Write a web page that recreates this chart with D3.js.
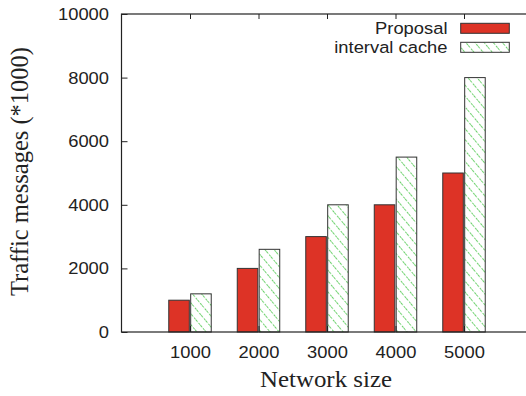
<!DOCTYPE html>
<html>
<head>
<meta charset="utf-8">
<script src="https://cdn.jsdelivr.net/npm/d3@7"></script>
<style>
  html, body { margin: 0; padding: 0; background: #fff; }
  svg { display: block; }
</style>
</head>
<body>
<svg id="chart" width="526" height="396"></svg>
<script>
// Network sizes on the x axis and the two traffic series (in thousands of messages)
const categories = ["1000", "2000", "3000", "4000", "5000"];
const proposal = [1000, 2000, 3000, 4000, 5000];
const intervalCache = [1200, 2600, 4000, 5500, 8000];
const yTicks = [0, 2000, 4000, 6000, 8000, 10000];
const seriesNames = ["Proposal", "interval cache"];

(function () {
const svg = d3.select("#chart");
const plotLeft = 121.5, plotTop = 14, plotBottom = 332;
const slot = 68.5;
const sx = 1.08;   // slight horizontal widening of the sans labels

// x positions: category i sits at i+1 on a 0..6 range (right edge falls past the canvas)
const x = d3.scaleLinear().domain([0, 6]).range([plotLeft, plotLeft + 6 * slot]);
const y = d3.scaleLinear().domain([0, 10000]).range([plotBottom, plotTop]);

const sansFont = "'Liberation Sans', Arial, Helvetica, sans-serif";
const serifFont = "'Liberation Serif', 'Times New Roman', Times, serif";
const frameColor = "#222";
const sansSize = 17;

// Hatch pattern for the interval cache bars
const defs = svg.append("defs");
const pat = defs.append("pattern")
  .attr("id", "hatch")
  .attr("patternUnits", "userSpaceOnUse")
  .attr("width", 7).attr("height", 7)
  .attr("patternTransform", "rotate(-40)");
pat.append("rect").attr("width", 7).attr("height", 7).attr("fill", "#fff");
pat.append("line")
  .attr("x1", 0).attr("y1", 0).attr("x2", 0).attr("y2", 7)
  .attr("stroke", "#30c030").attr("stroke-width", 1.4)
  .attr("stroke-dasharray", "2.5 1.5");

const boxW = 0.3, offset = 0.16;
const red = "#dd3326";

// Bars
const g = svg.append("g");
g.selectAll("rect.prop").data(proposal).enter().append("rect")
  .attr("class", "prop")
  .attr("x", (d, i) => x(i + 1 - offset - boxW / 2))
  .attr("width", (d, i) => x(i + 1 - offset + boxW / 2) - x(i + 1 - offset - boxW / 2))
  .attr("y", d => y(d))
  .attr("height", d => y(0) - y(d))
  .attr("fill", red).attr("stroke", "#333").attr("stroke-width", 1);

g.selectAll("rect.ic").data(intervalCache).enter().append("rect")
  .attr("class", "ic")
  .attr("x", (d, i) => x(i + 1 + offset - boxW / 2))
  .attr("width", (d, i) => x(i + 1 + offset + boxW / 2) - x(i + 1 + offset - boxW / 2))
  .attr("y", d => y(d))
  .attr("height", d => y(0) - y(d))
  .attr("fill", "url(#hatch)").attr("stroke", "#333").attr("stroke-width", 1);

// Frame
svg.append("rect")
  .attr("x", x(0)).attr("y", y(10000))
  .attr("width", x(6) - x(0)).attr("height", y(0) - y(10000))
  .attr("fill", "none").attr("stroke", frameColor).attr("stroke-width", 1.2);

// Y axis (ticks pointing inward)
const yAxis = d3.axisLeft(y).tickValues(yTicks).tickSize(-6).tickPadding(12.5 / sx)
  .tickFormat(d3.format("d"));
const yg = svg.append("g").attr("transform", `translate(${x(0)},0)`).call(yAxis);
yg.select(".domain").remove();
yg.selectAll(".tick line").attr("stroke", frameColor);
yg.selectAll(".tick text").attr("font-family", sansFont).attr("font-size", sansSize)
  .attr("fill", "#222").attr("transform", `scale(${sx},1)`);

// X axis at bottom (inward ticks) and mirrored ticks on top
const xAxis = d3.axisBottom(x).tickValues([1, 2, 3, 4, 5]).tickSize(-6).tickPadding(14)
  .tickFormat((d) => categories[d - 1]);
const xg = svg.append("g").attr("transform", `translate(0,${y(0)})`).call(xAxis);
xg.select(".domain").remove();
xg.selectAll(".tick line").attr("stroke", frameColor);
xg.selectAll(".tick text").attr("font-family", sansFont).attr("font-size", sansSize)
  .attr("fill", "#222").attr("transform", `scale(${sx},1)`);

const xTop = d3.axisTop(x).tickValues([1, 2, 3, 4, 5]).tickSize(-5).tickFormat("");
const xtg = svg.append("g").attr("transform", `translate(0,${y(10000)})`).call(xTop);
xtg.select(".domain").remove();
xtg.selectAll(".tick line").attr("stroke", frameColor);

// Axis titles
svg.append("text")
  .attr("transform", `translate(326,387) scale(1.06,1)`)
  .attr("text-anchor", "middle")
  .attr("font-family", serifFont).attr("font-size", 23.5).attr("fill", "#222")
  .text("Network size");

svg.append("text")
  .attr("transform", "translate(28,171.5) rotate(-90)")
  .attr("text-anchor", "middle")
  .attr("font-family", serifFont).attr("font-size", 24.5).attr("fill", "#222")
  .text("Traffic messages (*1000)");

// Legend
const legend = svg.append("g");
const legendFills = [red, "url(#hatch)"];
seriesNames.forEach((name, i) => {
  const cy = 28.3 + i * 19;
  legend.append("text")
    .attr("transform", `translate(447.5,${cy + 6}) scale(${sx},1)`)
    .attr("text-anchor", "end")
    .attr("font-family", sansFont).attr("font-size", sansSize).attr("fill", "#222")
    .text(name);
  legend.append("rect")
    .attr("x", 460.7).attr("y", cy - 5)
    .attr("width", 48.6).attr("height", 10)
    .attr("fill", legendFills[i]).attr("stroke", "#333").attr("stroke-width", 1);
});
})();
</script>
</body>
</html>
